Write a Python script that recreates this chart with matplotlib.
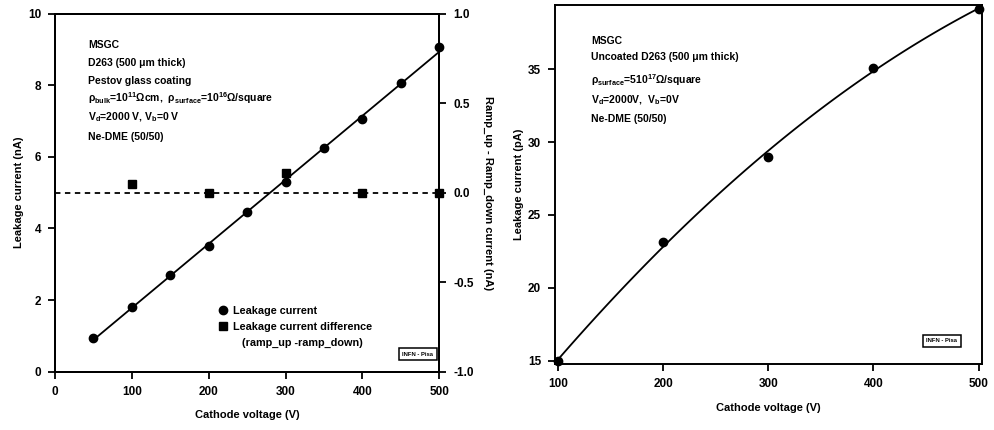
import numpy as np
import matplotlib
matplotlib.use("Agg")
import matplotlib.pyplot as plt
from matplotlib.lines import Line2D

plt.rcParams['font.family'] = ['Liberation Sans', 'DejaVu Sans']
plt.rcParams['mathtext.default'] = 'regular'

# ---- data: left panel (Pestov coated) ----
volt_left = [50, 100, 150, 200, 250, 300, 350, 400, 450, 500]
leak_left = [0.95, 1.81, 2.70, 3.51, 4.45, 5.29, 6.24, 7.06, 8.06, 9.06]
volt_diff = [100, 200, 300, 400, 500]
leak_diff = [0.05, 0.0, 0.108, 0.0, 0.0]

# ---- data: right panel (uncoated) ----
volt_right = [100, 200, 300, 400, 500]
leak_right = [15.0, 23.13, 29.0, 35.09, 39.12]

left_xticks = [0, 100, 200, 300, 400, 500]
left_yticks = [0, 2, 4, 6, 8, 10]
diff_yticks = [-1.0, -0.5, 0.0, 0.5, 1.0]
right_xticks = [100, 200, 300, 400, 500]
right_yticks = [15, 20, 25, 30, 35]

W, H = 995, 430
fig = plt.figure(figsize=(W / 100, H / 100), dpi=100)

def box(l, t, r, b):
    return [l / W, 1 - b / H, (r - l) / W, (b - t) / H]

tick_kw = dict(direction='out', length=5, width=1.3, labelsize=8.5, pad=5)
fw = 'bold'

# ---------------- left panel ----------------
ax1 = fig.add_axes(box(55, 13.7, 439.3, 371.7))
ax2 = ax1.twinx()
for ax in (ax1, ax2):
    for s in ax.spines.values():
        s.set_linewidth(1.4)

ax1.set_xlim(0, 500)
ax1.set_ylim(0, 10)
ax2.set_ylim(-1, 1)

fit1 = np.polyfit(volt_left, leak_left, 1)
xs1 = np.linspace(min(volt_left), max(volt_left), 50)
ax1.plot(xs1, np.polyval(fit1, xs1), color='black', lw=1.3, zorder=2)
ax1.plot(volt_left, leak_left, 'o', color='black', ms=6, zorder=3,
         clip_on=False)

ax2.axhline(0, color='black', lw=1.3, ls=(0, (3, 2.5)), zorder=2)
ax2.plot(volt_diff, leak_diff, 's', color='black', ms=6, zorder=3,
         clip_on=False)

ax1.set_xticks(left_xticks)
ax1.set_yticks(left_yticks)
ax2.set_yticks(diff_yticks)
ax1.set_xticklabels([str(v) for v in left_xticks], fontweight=fw)
ax1.set_yticklabels([str(v) for v in left_yticks], fontweight=fw)
ax2.set_yticklabels(['%.1f' % v for v in diff_yticks], fontweight=fw)
ax1.tick_params(**tick_kw)
ax2.tick_params(**tick_kw)

ax1.set_xlabel('Cathode voltage (V)', fontsize=8, fontweight=fw, labelpad=9)
ax1.set_ylabel('Leakage current (nA)', fontsize=8, fontweight=fw, labelpad=3)
ax2.set_ylabel('Ramp_up - Ramp_down current (nA)', fontsize=8, fontweight=fw,
               rotation=-90, labelpad=14)

def px(ax, x, y):
    # convert figure pixel (from top-left) to axes fraction of ax
    bb = ax.get_position()
    fx, fy = x / W, 1 - y / H
    return ((fx - bb.x0) / bb.width, (fy - bb.y0) / bb.height)

left_lines = [
    'MSGC',
    'D263 (500 μm thick)',
    'Pestov glass coating',
    r'$\rho_{bulk}$=10$^{11}$Ωcm,  $\rho_{surface}$=10$^{16}$Ω/square',
    r'V$_{d}$=2000 V, V$_{b}$=0 V',
    'Ne-DME (50/50)',
]
ys_left = [45, 63.3, 80.7, 98.3, 117.3, 136.7]
for txt, yy in zip(left_lines, ys_left):
    ax1.text(*px(ax1, 88, yy), txt, transform=ax1.transAxes, fontsize=7.5,
             fontweight='bold', va='center', ha='left')

handles = [Line2D([], [], marker='o', color='black', ls='none', ms=6),
           Line2D([], [], marker='s', color='black', ls='none', ms=6),
           Line2D([], [], marker='none', ls='none')]
leg = ax1.legend(handles, ['Leakage current',
                           'Leakage current difference',
                           '   (ramp_up -ramp_down)'],
                 loc='upper left', bbox_to_anchor=px(ax1, 216, 306),
                 frameon=False, prop=dict(size=7.8, weight='bold'),
                 handletextpad=0.4, labelspacing=0.55, borderaxespad=0,
                 borderpad=0, handlelength=1.2)

ax1.text(*px(ax1, 418, 354), 'INFN - Pisa', transform=ax1.transAxes,
         fontsize=4.2, fontweight='bold', ha='center', va='center',
         bbox=dict(boxstyle='square,pad=0.55', fc='white', ec='black', lw=1.1))

# ---------------- right panel ----------------
ax3 = fig.add_axes(box(555, 5, 981.7, 364.3))
for s in ax3.spines.values():
    s.set_linewidth(1.4)
ax3.set_xlim(97, 503)
ax3.set_ylim(14.75, 39.4)

fit3 = np.polyfit(volt_right, leak_right, 2)
xs3 = np.linspace(min(volt_right), max(volt_right), 100)
ax3.plot(xs3, np.polyval(fit3, xs3), color='black', lw=1.3, zorder=2)
ax3.plot(volt_right, leak_right, 'o', color='black', ms=6, zorder=3,
         clip_on=False)

ax3.set_xticks(right_xticks)
ax3.set_yticks(right_yticks)
ax3.set_xticklabels([str(v) for v in right_xticks], fontweight=fw)
ax3.set_yticklabels([str(v) for v in right_yticks], fontweight=fw)
ax3.tick_params(**tick_kw)
ax3.set_xlabel('Cathode voltage (V)', fontsize=8, fontweight=fw, labelpad=9)
ax3.set_ylabel('Leakage current (pA)', fontsize=8, fontweight=fw, labelpad=3)

right_lines = [
    'MSGC',
    'Uncoated D263 (500 μm thick)',
    r'$\rho_{surface}$=510$^{17}$Ω/square',
    r'V$_{d}$=2000V,  V$_{b}$=0V',
    'Ne-DME (50/50)',
]
ys_right = [40.7, 57.3, 80, 100, 119.3]
for txt, yy in zip(right_lines, ys_right):
    ax3.text(*px(ax3, 591, yy), txt, transform=ax3.transAxes, fontsize=7.5,
             fontweight='bold', va='center', ha='left')

ax3.text(*px(ax3, 942, 341), 'INFN - Pisa', transform=ax3.transAxes,
         fontsize=4.2, fontweight='bold', ha='center', va='center',
         bbox=dict(boxstyle='square,pad=0.55', fc='white', ec='black', lw=1.1))

fig.savefig('out.png', dpi=100)
